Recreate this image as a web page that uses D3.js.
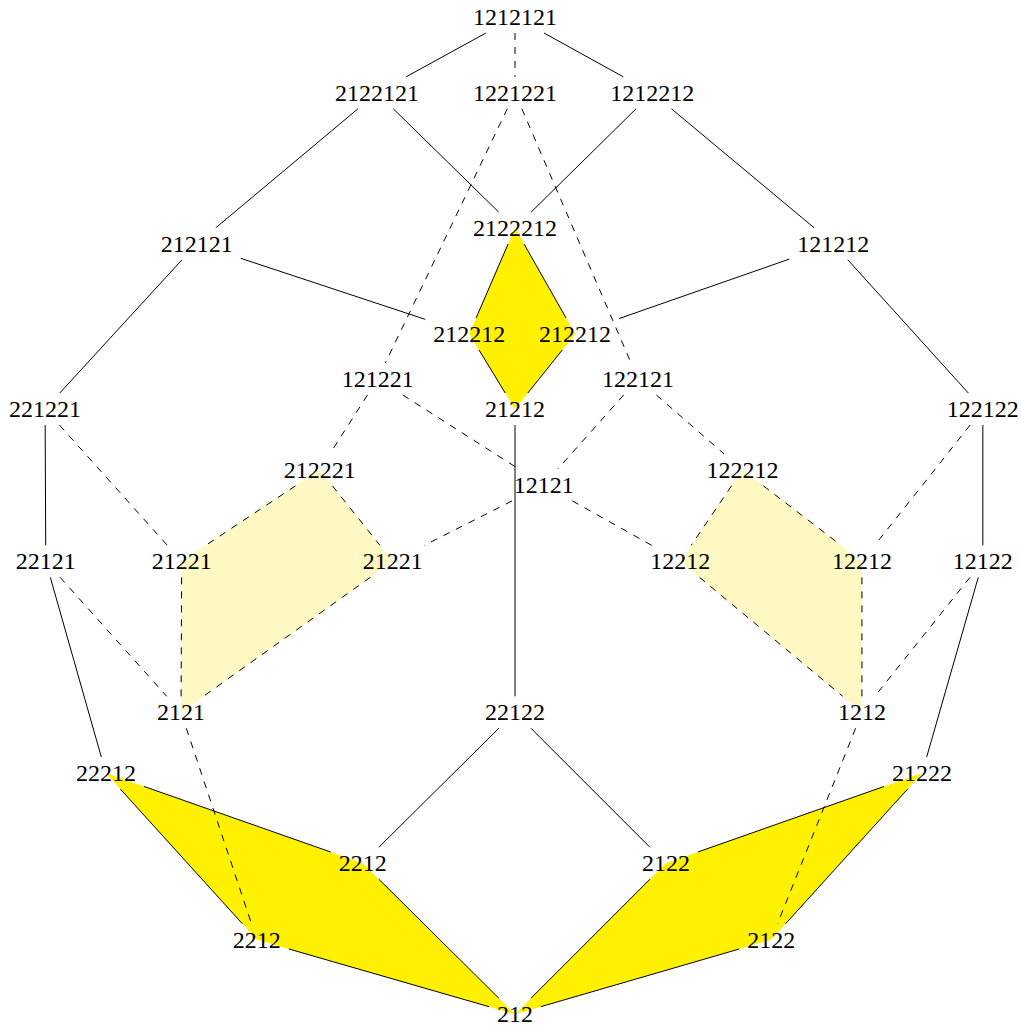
<!DOCTYPE html>
<html>
<head>
<meta charset="utf-8">
<script src="https://cdn.jsdelivr.net/npm/d3@7"></script>
<style>
  body { margin: 0; background: #fff; }
  text { font-family: "Liberation Serif", "DejaVu Serif", serif; }
</style>
</head>
<body>
<div id="chart"></div>
<script>
// node words and their places (x from the middle, y down from the top, in cm)
var ids    = ["a","b","c","d","e","f","g","h","i","j","k","l","m","n","o","p","q","r","s","t","u","v","w","x","y","z","A","B","C","D","E","F","G"];
var words  = ["1212121","2122121","1221221","1212212","2122212","212121","121212","212212","212212","121221","122121","21212","221221","122122","212221","122212","12121","22121","21221","21221","12212","12212","12122","2121","22122","1212","22212","21222","2212","2122","2212","2122","212"];
var xcm    = [0,-2.02,0,2.01,0,-4.66,4.66,-0.67,0.88,-2.01,1.80,0,-6.88,6.85,-2.86,3.33,0.42,-6.87,-4.88,-1.79,2.42,5.08,6.85,-4.89,0,5.08,-5.99,5.96,-2.23,2.21,-3.78,3.75,0];
var ycm    = [0,1.11,1.11,1.11,3.09,3.32,3.32,4.64,4.64,5.30,5.30,5.74,5.74,5.74,6.63,6.63,6.85,7.97,7.97,7.97,7.97,7.97,7.97,10.18,10.18,10.18,11.07,11.07,12.39,12.39,13.51,13.51,14.60];

var solidEdges  = ["a-b","a-d","b-f","b-e","d-e","d-g","f-m","f-h","g-i","g-n","m-r","n-w","r-A","w-B","l-y","y-C","y-D","e-h","e-i","h-l","i-l","A-C","A-E","C-G","E-G","B-D","B-F","D-G","F-G"];
var dashedEdges = ["a-c","c-j","c-k","j-o","k-p","j-q","k-q","q-t","q-u","m-s","r-x","n-v","w-z","x-E","z-F","o-s","o-t","s-x","t-x","p-u","p-v","u-z","v-z"];

var strongFaces = [["e","i","l","h"],["A","C","G","E"],["B","D","G","F"]];
var paleFaces   = [["o","t","x","s"],["p","v","z","u"]];

var W = 1021, H = 1028, cm = 68.3;
var x = d3.scaleLinear().domain([0, 1]).range([515, 515 + cm]);
var y = d3.scaleLinear().domain([0, 1]).range([17, 17 + cm]);

var svg = d3.select("#chart").append("svg").attr("width", W).attr("height", H);

var nodes = {};
ids.forEach(function (id, i) {
    nodes[id] = { word: words[i], cx: x(xcm[i]), cy: y(ycm[i]) };
});

var gFill = svg.append("g"), gEdge = svg.append("g"), gText = svg.append("g");

// labels first so the boxes can be measured
ids.forEach(function (id) {
    var n = nodes[id];
    var t = gText.append("text")
        .attr("x", n.cx).attr("y", n.cy + 8)
        .attr("text-anchor", "middle")
        .style("font-size", "24px")
        .attr("fill", "#000")
        .text(n.word);
    n.hw = t.node().getComputedTextLength() / 2 + 8;
    n.hh = 16;
});

function face(list, color) {
    list.forEach(function (f) {
        gFill.append("path")
            .attr("d", d3.line()(f.map(function (k) { return [nodes[k].cx, nodes[k].cy]; })) + "Z")
            .attr("fill", color);
    });
}
face(paleFaces, "#fff8c2");
face(strongFaces, "#fff100");

function clip(n, dx, dy) {
    var t = Math.min(dx ? n.hw / Math.abs(dx) : 1e9, dy ? n.hh / Math.abs(dy) : 1e9);
    return [n.cx + dx * t, n.cy + dy * t];
}

function edges(list, dash) {
    list.forEach(function (e) {
        var p = e.split("-"), s = nodes[p[0]], q = nodes[p[1]];
        var dx = q.cx - s.cx, dy = q.cy - s.cy;
        var a = clip(s, dx, dy), b = clip(q, -dx, -dy);
        gEdge.append("line")
            .attr("x1", a[0]).attr("y1", a[1]).attr("x2", b[0]).attr("y2", b[1])
            .attr("stroke", "#000").attr("stroke-width", 1)
            .attr("stroke-dasharray", dash);
    });
}
edges(solidEdges, null);
edges(dashedEdges, "7,7");
</script>
</body>
</html>
